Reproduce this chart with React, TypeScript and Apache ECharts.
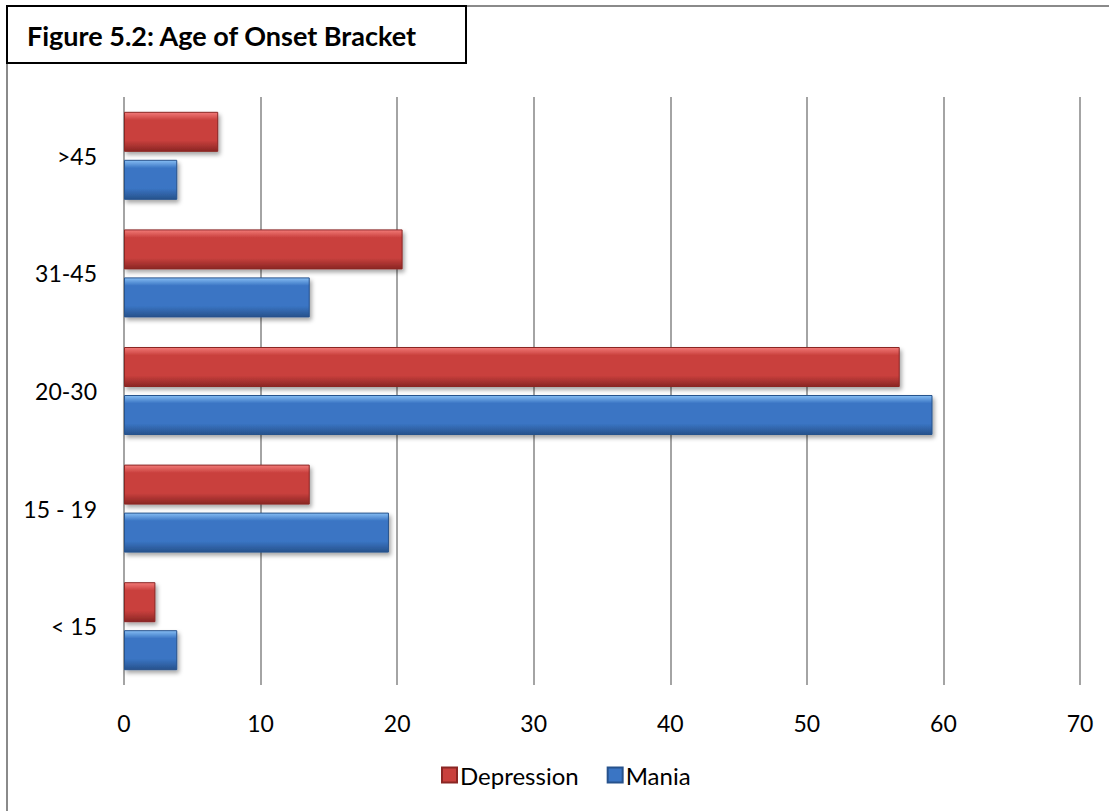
import React, { useEffect, useRef } from "react";
import * as echarts from "echarts";

const categories = ["< 15", "15 - 19", "20-30", "31-45", ">45"];
const depression = [2.3, 13.6, 56.8, 20.4, 6.9];
const mania = [3.9, 19.4, 59.2, 13.6, 3.9];
const xTicks = [0, 10, 20, 30, 40, 50, 60, 70];
const titleText = "Figure 5.2: Age of Onset Bracket";

const FONT = "Lato, 'Open Sans', sans-serif";

function grad(light: string, mid: string, dark: string) {
  return new echarts.graphic.LinearGradient(0, 0, 0, 1, [
    { offset: 0, color: light },
    { offset: 0.2, color: mid },
    { offset: 0.72, color: mid },
    { offset: 1, color: dark },
  ]);
}

export default function App() {
  const ref = useRef<HTMLDivElement>(null);
  useEffect(() => {
    if (!ref.current) return;
    const chart = echarts.init(ref.current, null, { renderer: "svg" });
    const redFill = grad("#f27a78", "#c9403d", "#8a2624");
    const blueFill = grad("#86bdf3", "#3a75c4", "#27528c");
    chart.setOption({
      animation: false,
      backgroundColor: "#ffffff",
      grid: { left: 124, right: 29, top: 97, bottom: 126, containLabel: false },
      xAxis: {
        type: "value",
        min: 0,
        max: 70,
        interval: 10,
        axisLine: { show: false },
        axisTick: { show: false },
        axisLabel: {
          margin: 26,
          fontSize: 23,
          color: "#000",
          fontFamily: FONT,
          formatter: (v: number) => (xTicks.includes(v) ? String(v) : ""),
        },
        splitLine: { show: true, lineStyle: { color: "#868686", width: 1.5 } },
      },
      yAxis: {
        type: "category",
        data: categories,
        axisLine: { show: false },
        axisTick: { show: false },
        axisLabel: { margin: 27, fontSize: 23, color: "#000", fontFamily: FONT },
        splitLine: { show: false },
      },
      legend: {
        data: [
          { name: "Depression", itemStyle: { color: "#c9403d" } },
          { name: "Mania", itemStyle: { color: "#3a75c4" } },
        ],
        left: 436,
        top: 758,
        icon: "rect",
        itemWidth: 15,
        itemHeight: 15,
        itemGap: 28,
        textStyle: { fontSize: 24, color: "#000", fontFamily: FONT, padding: [0, 0, 0, -2] },
      },
      series: [
        {
          name: "Depression",
          type: "bar",
          data: depression,
          barWidth: 40,
          barGap: "20%",
          itemStyle: {
            color: redFill,
            borderColor: "#8a2624",
            borderWidth: 1,
            shadowColor: "rgba(0,0,0,0.35)",
            shadowBlur: 4,
            shadowOffsetX: 2,
            shadowOffsetY: 3,
          },
        },
        {
          name: "Mania",
          type: "bar",
          data: mania,
          barWidth: 40,
          barGap: "20%",
          itemStyle: {
            color: blueFill,
            borderColor: "#27528c",
            borderWidth: 1,
            shadowColor: "rgba(0,0,0,0.35)",
            shadowBlur: 4,
            shadowOffsetX: 2,
            shadowOffsetY: 3,
          },
        },
      ],
      graphic: [
        {
          type: "polyline",
          shape: { points: [[7, 811], [7, 6], [1109, 6]] },
          style: { stroke: "#8a8a8a", lineWidth: 2, fill: null },
          silent: true,
        },
        {
          type: "rect",
          shape: { x: 7, y: 6, width: 459, height: 57 },
          style: { stroke: "#000", lineWidth: 2, fill: "#fff" },
          silent: true,
        },
        {
          type: "text",
          x: 27,
          y: 35,
          style: {
            text: titleText,
            font: `bold 27px ${FONT}`,
            fill: "#000",
            textVerticalAlign: "middle",
          },
          silent: true,
        },
      ],
    });
    return () => chart.dispose();
  }, []);
  return (
    <div
      ref={ref}
      style={{ position: "fixed", left: 0, top: 0, width: 1109, height: 811, background: "#fff" }}
    />
  );
}
